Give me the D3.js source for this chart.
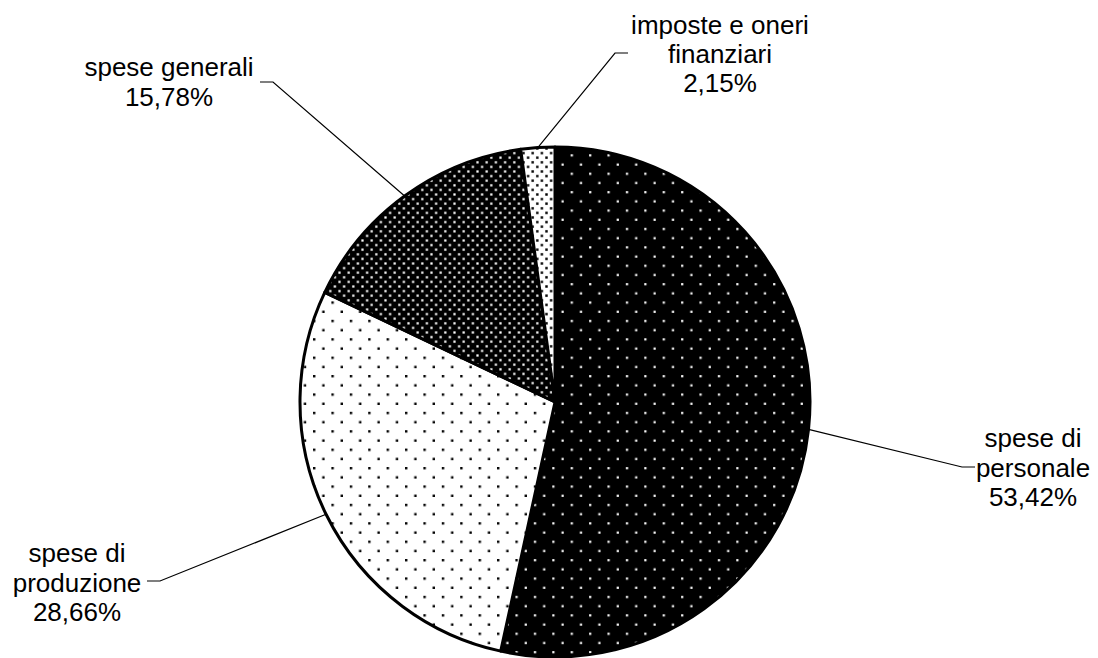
<!DOCTYPE html>
<html><head><meta charset="utf-8">
<script src="https://cdn.jsdelivr.net/npm/d3@7"></script>
<style>html,body{margin:0;padding:0;background:#fff;}svg{display:block;}</style>
</head><body>
<svg id="chart" width="1098" height="658"></svg>
<script>
// ---- data ----
const categories = ["spese di personale", "spese di produzione", "spese generali", "imposte e oneri finanziari"];
const values = [53.42, 28.66, 15.78, 2.15];
const labelLines = [
  ["spese di", "personale", "53,42%"],
  ["spese di", "produzione", "28,66%"],
  ["spese generali", "15,78%"],
  ["imposte e oneri", "finanziari", "2,15%"]
];

// ---- layout ----
const W = 1098, H = 658;
const cx = 555, cy = 402, R = 255;
const patterns = [
  {id: "p0", bg: "#000", dot: "#fff", step: 18.4, r: 1.1},
  {id: "p1", bg: "#fff", dot: "#000", step: 18.4, r: 1.2},
  {id: "p2", bg: "#000", dot: "#fff", step: 9.2, r: 1.1},
  {id: "p3", bg: "#fff", dot: "#000", step: 9.2, r: 1.2}
];
const labelLayout = [
  {x: 1033, y: 447, lh: 29.5, elbow: [962, 467], end: [975, 467]},
  {x: 77, y: 562, lh: 29.5, elbow: [160, 581], end: [147, 581]},
  {x: 169, y: 76, lh: 30, elbow: [273, 82], end: [260, 82]},
  {x: 720, y: 34, lh: 29, elbow: [615, 53], end: [628, 53]}
];

const svg = d3.select("#chart");
const defs = svg.append("defs");
patterns.forEach(p => {
  const pat = defs.append("pattern").attr("id", p.id)
    .attr("patternUnits", "userSpaceOnUse")
    .attr("x", cx).attr("y", cy)
    .attr("width", p.step).attr("height", p.step);
  pat.append("rect").attr("width", p.step).attr("height", p.step).attr("fill", p.bg);
  [[p.step/4, p.step/4], [p.step*3/4, p.step*3/4]].forEach(([x, y]) =>
    pat.append("rect").attr("x", x - p.r).attr("y", y - p.r)
      .attr("width", p.r*2).attr("height", p.r*2).attr("fill", p.dot));
});

const pie = d3.pie().sort(null).value(d => d)(values);
const arc = d3.arc().innerRadius(0).outerRadius(R);
const edgeArc = d3.arc().innerRadius(R).outerRadius(R);

const g = svg.append("g").attr("transform", `translate(${cx},${cy})`);
g.selectAll("path.slice").data(pie).join("path")
  .attr("class", "slice")
  .attr("d", arc)
  .attr("fill", (d, i) => `url(#${patterns[i].id})`)
  .attr("stroke", "#000").attr("stroke-width", 3).attr("stroke-linejoin", "round");

// leader lines
pie.forEach((d, i) => {
  const c = edgeArc.centroid(d);
  const p0 = [cx + c[0], cy + c[1]];
  const L = labelLayout[i];
  svg.append("polyline")
    .attr("points", [p0, L.elbow, L.end].map(p => p.join(",")).join(" "))
    .attr("fill", "none").attr("stroke", "#000").attr("stroke-width", 1.2);
});

// labels
labelLines.forEach((lines, i) => {
  const L = labelLayout[i];
  const t = svg.append("text")
    .attr("text-anchor", "middle")
    .attr("font-family", "'Liberation Sans', Arial, sans-serif")
    .attr("font-size", 26).attr("fill", "#000");
  lines.forEach((s, j) => t.append("tspan").attr("x", L.x).attr("y", L.y + j * L.lh).text(s));
});
</script>
</body></html>
